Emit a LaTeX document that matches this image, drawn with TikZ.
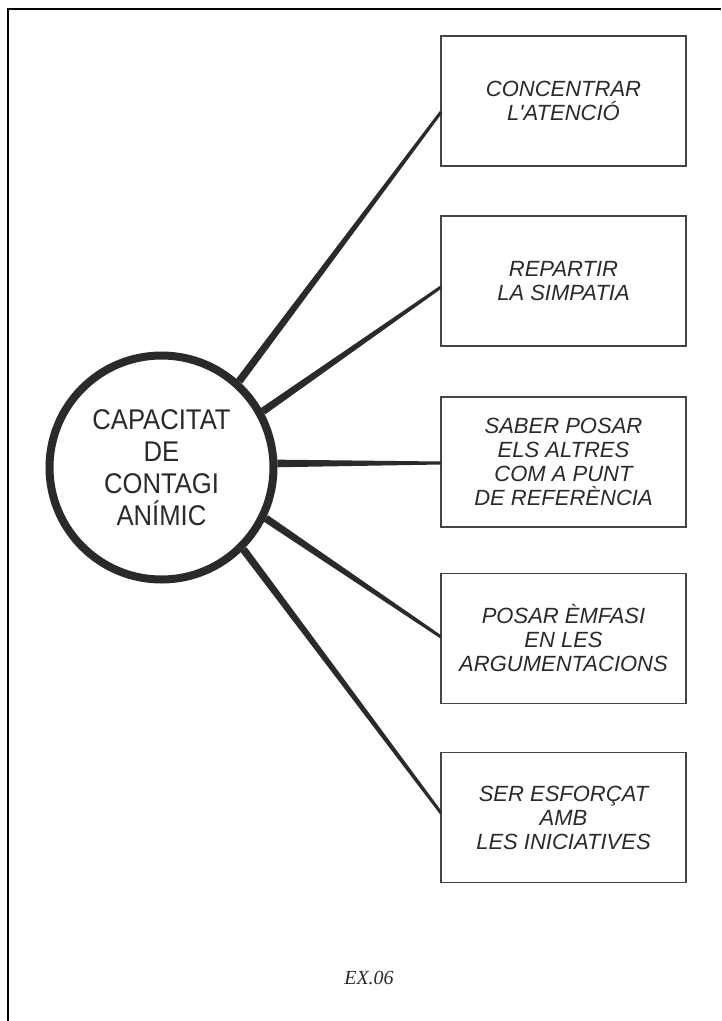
\documentclass[tikz,border=0pt]{standalone}
\usepackage{fontspec}
\setmainfont{Liberation Serif}
\newfontfamily\boxfont{Liberation Sans}
\newfontfamily\circfont[FakeStretch=0.9]{Liberation Sans}
\usetikzlibrary{calc}
\definecolor{ink}{HTML}{2A2A2A}
\definecolor{boxink}{HTML}{444444}
\tikzset{
  itembox/.style={draw=boxink, line width=1.4pt, minimum width=245pt, minimum height=130pt,
    align=center, text=ink, inner sep=0pt,
    font={\boxfont\itshape\fontsize{22}{24}\selectfont}},
  hub/.style={circle, draw=ink, line width=8pt, fill=white, minimum size=224pt, inner sep=0pt,
    align=center, text=ink, font={\circfont\fontsize{28.5}{32}\selectfont}},
  frameline/.style={draw=black, line width=2pt}
}
\newcommand{\taperlink}[2]{%
  \fill[ink] ($(#1)!3.8pt!90:(#2)$) -- ($(#2)!1.5pt!-90:(#1)$) -- ($(#2)!1.5pt!90:(#1)$) -- ($(#1)!3.8pt!-90:(#2)$) -- cycle;}
\begin{document}
\begin{tikzpicture}[x=1pt,y=-1pt]
\useasboundingbox (0,0) rectangle (721,1021);
\fill[white] (0,0) rectangle (721,1021);
\draw[frameline] (8,1021) -- (8,9) -- (721,9);

\node[itembox] (b1) at (563.5,101) {CONCENTRAR\\L'ATENCIÓ};
\node[itembox] (b2) at (563.5,281) {REPARTIR\\LA SIMPATIA};
\node[itembox] (b3) at (563.5,462) {SABER POSAR\\ELS ALTRES\\COM A PUNT\\DE REFERÈNCIA};
\node[itembox] (b4) at (563.5,638.5) {POSAR ÈMFASI\\EN LES\\ARGUMENTACIONS};
\node[itembox] (b5) at (563.5,817.5) {SER ESFORÇAT\\AMB\\LES INICIATIVES};

\coordinate (e1) at ($(b1.west)+(0.7,11)$);
\coordinate (e2) at ($(b2.west)+(0.7,6)$);
\coordinate (e3) at ($(b3.west)+(0.7,1)$);
\coordinate (e4) at ($(b4.west)+(0.7,-1.5)$);
\coordinate (e5) at ($(b5.west)+(0.7,-4.5)$);

\node[hub, draw=none, fill=none] (hubpos) at (161.5,467.5) {};
\taperlink{hubpos.48.7}{e1}
\taperlink{hubpos.29.5}{e2}
\taperlink{hubpos.2.2}{e3}
\taperlink{hubpos.-26}{e4}
\taperlink{hubpos.-45}{e5}
\node[hub] (hubc) at (hubpos) {CAPACITAT\\DE\\CONTAGI\\ANÍMIC};

\node[font={\itshape\fontsize{20}{22}\selectfont}, text=ink] (lbl) at (369,978) {EX.06};
\end{tikzpicture}
\end{document}
